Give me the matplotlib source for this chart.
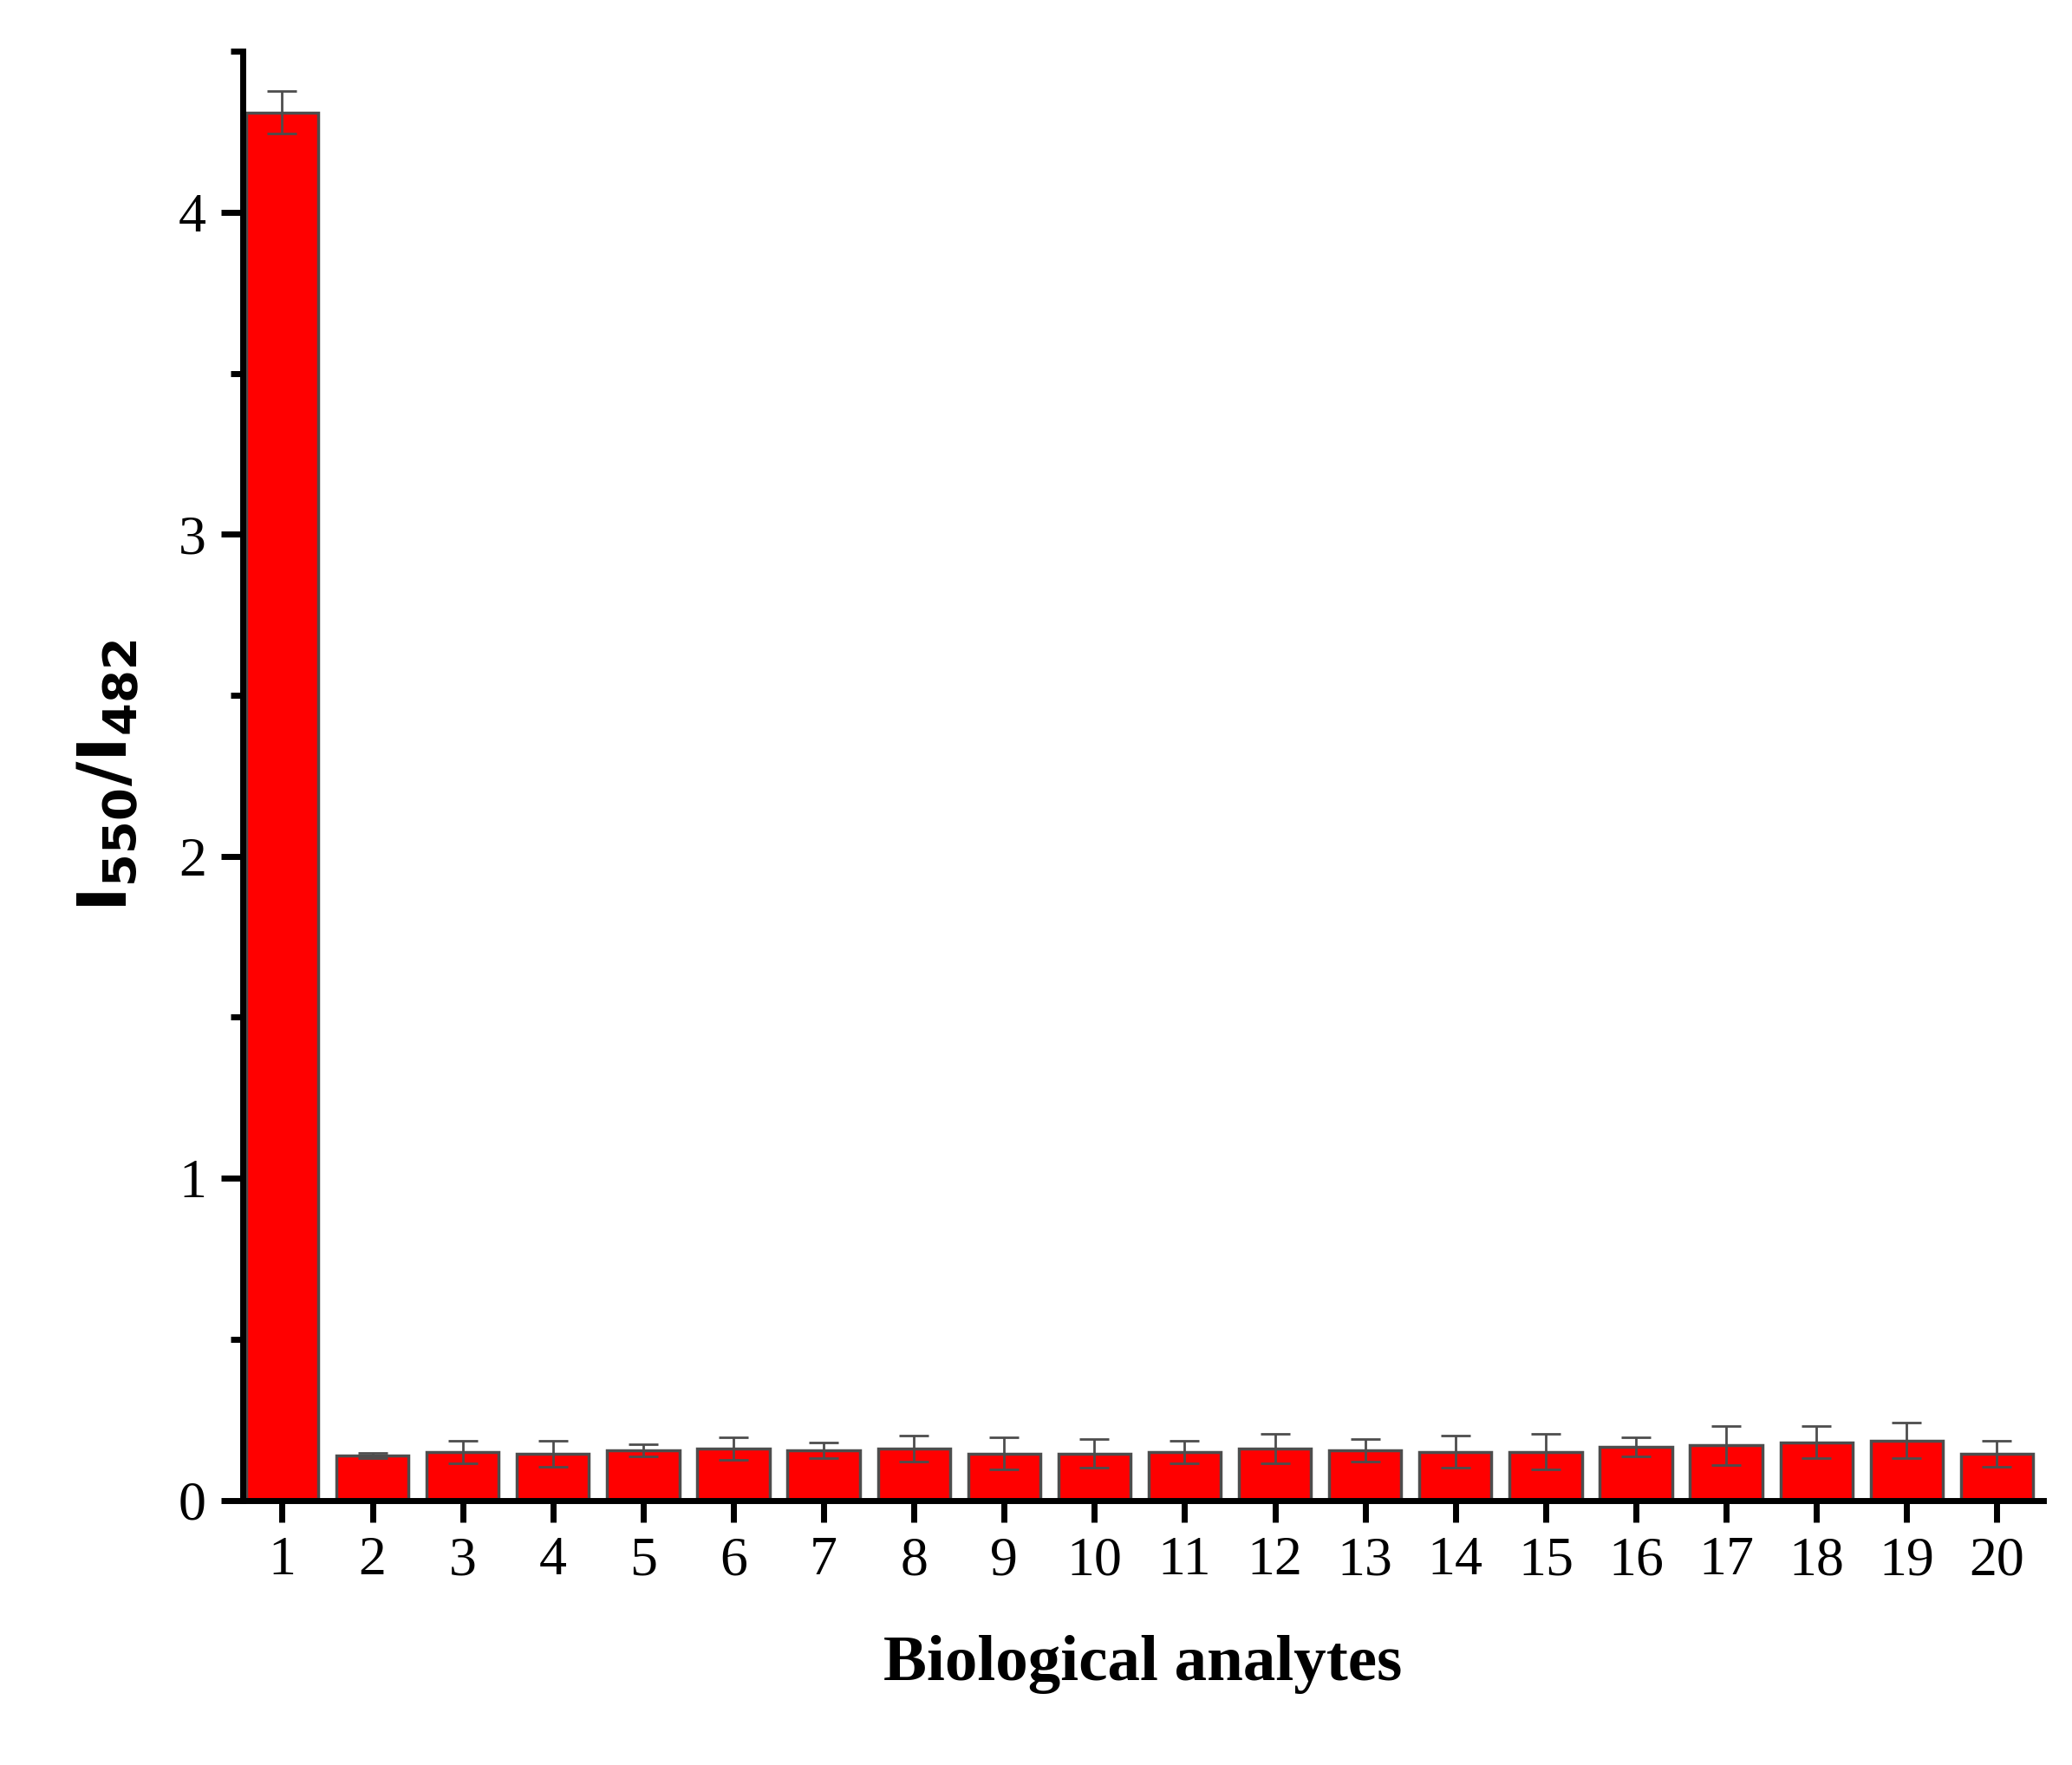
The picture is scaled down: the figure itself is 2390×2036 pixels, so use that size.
import matplotlib
matplotlib.use("Agg")
import matplotlib.pyplot as plt
from matplotlib.ticker import MultipleLocator

analytes = list(range(1, 21))
values = [4.31, 0.14, 0.15, 0.145, 0.155, 0.16, 0.155, 0.16, 0.145, 0.145,
          0.15, 0.16, 0.155, 0.15, 0.15, 0.165, 0.17, 0.18, 0.185, 0.145]
errors = [0.065, 0.008, 0.035, 0.04, 0.02, 0.035, 0.025, 0.04, 0.05, 0.045,
          0.035, 0.045, 0.035, 0.05, 0.055, 0.03, 0.06, 0.05, 0.055, 0.04]

plt.rcParams['font.family'] = ['Liberation Serif', 'DejaVu Serif']
fig = plt.figure(figsize=(23.9, 20.36), dpi=100)
ax = fig.add_axes([0.117, 0.150, 0.869, 0.821])
ax.bar(analytes, values, width=0.8, color='#ff0000', edgecolor='#4d4d4d', linewidth=2.5,
       yerr=errors, error_kw=dict(ecolor='#4d4d4d', elinewidth=2, capsize=12, capthick=2))
ax.set_xlim(0.56, 20.51)
ax.set_ylim(0, 4.5)
ax.set_xticks(analytes)
ax.yaxis.set_major_locator(MultipleLocator(1))
ax.yaxis.set_minor_locator(MultipleLocator(0.5))
for s in ['top', 'right']:
    ax.spines[s].set_visible(False)
for s in ['left', 'bottom']:
    ax.spines[s].set_linewidth(5)
ax.tick_params(which='major', length=18, width=5, labelsize=46, direction='out', pad=12)
ax.tick_params(which='minor', length=10, width=5, direction='out')
ax.tick_params(axis='x', which='minor', bottom=False)
ax.set_xlabel('Biological analytes', fontsize=54, fontweight='bold', labelpad=40)
ax.set_ylabel(r'$\mathbf{I_{550}/I_{482}}$', fontsize=56, labelpad=30)
plt.rcParams['mathtext.fontset'] = 'custom'
fig.savefig('out.png', dpi=100)
